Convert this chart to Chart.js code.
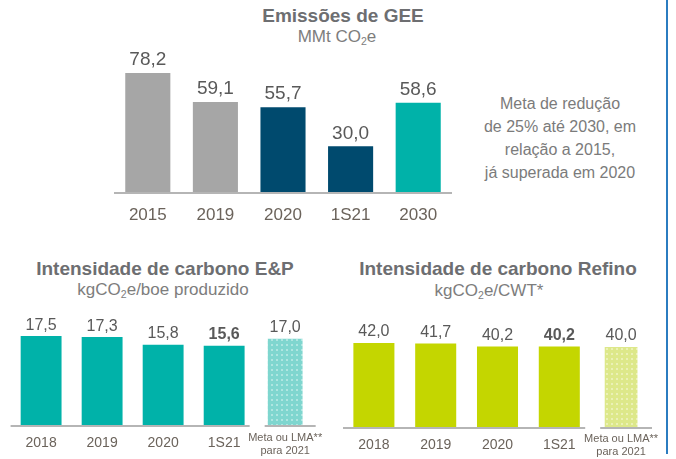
<!DOCTYPE html>
<html lang="pt">
<head>
<meta charset="utf-8">
<title>Emissões de GEE e intensidade de carbono</title>
<script src="https://cdn.jsdelivr.net/npm/chart.js@4"></script>
<style>
  html, body {
    margin: 0;
    padding: 0;
    background: #ffffff;
  }
  #page {
    position: relative;
    width: 676px;
    height: 459px;
    overflow: hidden;
    font-family: 'Liberation Sans', Arial, sans-serif;
  }
  .box {
    position: absolute;
  }
  .title {
    position: absolute;
    font-weight: bold;
    font-size: 19px;
    line-height: 24px;
    color: #6d6e71;
    white-space: nowrap;
    text-align: center;
  }
  .subtitle {
    position: absolute;
    font-size: 17px;
    line-height: 22px;
    color: #7d7d7d;
    white-space: nowrap;
    text-align: center;
  }
  .sub2 {
    font-size: 0.62em;
    vertical-align: -0.3em;
    line-height: 0;
  }
  #note {
    position: absolute;
    left: 460px;
    top: 92px;
    width: 200px;
    font-size: 16px;
    line-height: 23px;
    color: #7b7b7b;
    text-align: center;
  }
  #edge {
    position: absolute;
    left: 666px;
    top: 0;
    width: 2px;
    height: 454px;
    background: #2b7cc0;
  }
</style>
</head>
<body>
<div id="page">
  <div class="title" style="left:243px; top:4px; width:200px;">Emissões de GEE</div>
  <div class="subtitle" style="left:237px; top:26px; width:200px;">MMt CO<span class="sub2">2</span>e</div>

  <div id="note">Meta de redução<br>de 25% até 2030, em<br>relação a 2015,<br>já superada em 2020</div>

  <div class="title" style="left:15px; top:257px; width:300px;">Intensidade de carbono E&amp;P</div>
  <div class="subtitle" style="left:13px; top:279px; width:300px;">kgCO<span class="sub2">2</span>e/boe produzido</div>

  <div class="title" style="left:348px; top:257px; width:300px;">Intensidade de carbono Refino</div>
  <div class="subtitle" style="left:339px; top:280px; width:300px;">kgCO<span class="sub2">2</span>e/CWT*</div>

  <canvas id="ghg-chart" class="box" width="370" height="190" style="left:100px; top:45px;"></canvas>
  <canvas id="ep-chart" class="box" width="330" height="146" style="left:0px; top:313px;"></canvas>
  <canvas id="ref-chart" class="box" width="330" height="142" style="left:335px; top:317px;"></canvas>

  <div id="edge"></div>
</div>

<script>
'use strict';

// Data
const ghgLabels = ['2015', '2019', '2020', '1S21', '2030'];
const ghgValues = [78.2, 59.1, 55.7, 30.0, 58.6];
const ghgColors = ['#a6a6a6', '#a6a6a6', '#004a6e', '#004a6e', '#00b2a9'];

const epLabels = ['2018', '2019', '2020', '1S21', ['Meta ou LMA**', 'para 2021']];
const epValues = [17.5, 17.3, 15.8, 15.6];
const epTarget = 17.0;

const refLabels = ['2018', '2019', '2020', '1S21', ['Meta ou LMA**', 'para 2021']];
const refValues = [42.0, 41.7, 40.2, 40.2];
const refTarget = 40.0;

const FONT = "'Liberation Sans', Arial, sans-serif";
const TICK_COLOR = '#6b635b';
const VALUE_COLOR = '#595959';
const BASE_COLOR = '#b5b5b5';

Chart.defaults.font.family = FONT;
Chart.defaults.animation = false;

// dotted fill for the 2021 target bars
function makeDots(base, dot) {
  let tile = document.createElement('canvas');
  tile.width = 5;
  tile.height = 5;
  let c = tile.getContext('2d');
  c.fillStyle = base;
  c.fillRect(0, 0, 5, 5);
  c.fillStyle = dot;
  c.fillRect(1, 1, 2, 2);
  return c.createPattern(tile, 'repeat');
}

function fmt(v) {
  return v.toFixed(1).replace('.', ',');
}

// numbers above the bars
const valueLabels = {
  id: 'valueLabels',
  afterDatasetsDraw(chart, args, opts) {
    let ctx = chart.ctx;
    ctx.save();
    ctx.fillStyle = VALUE_COLOR;
    ctx.textAlign = 'center';
    ctx.textBaseline = 'middle';
    chart.data.datasets.forEach(function (ds, di) {
      chart.getDatasetMeta(di).data.forEach(function (bar, i) {
        let v = ds.data[i];
        if (v === null || v === undefined) {
          return;
        }
        let bold = opts.boldIndex === i ? 'bold ' : '';
        ctx.font = bold + opts.size + 'px ' + FONT;
        ctx.fillText(fmt(v), bar.x, bar.y - opts.offset);
      });
    });
    ctx.restore();
  }
};

// grey base line, optionally broken before the last bar
const baseLine = {
  id: 'baseLine',
  afterDatasetsDraw(chart, args, opts) {
    let ctx = chart.ctx;
    let area = chart.chartArea;
    let x = chart.scales.x;
    let y = area.bottom + 1;
    ctx.save();
    ctx.strokeStyle = BASE_COLOR;
    ctx.lineWidth = 2;
    ctx.beginPath();
    if (opts.split) {
      let step = x.getPixelForValue(1) - x.getPixelForValue(0);
      let edge = x.getPixelForValue(3) + step / 2;
      ctx.moveTo(area.left, y);
      ctx.lineTo(edge - 5, y);
      ctx.moveTo(edge + 10, y);
      ctx.lineTo(area.right, y);
    } else {
      ctx.moveTo(area.left, y);
      ctx.lineTo(area.right, y);
    }
    ctx.stroke();
    ctx.restore();
  }
};

function xAxis(size, lineHeight, pad, height) {
  return {
    grid: { display: false, drawTicks: false },
    border: { display: false },
    ticks: {
      color: TICK_COLOR,
      padding: pad,
      autoSkip: false,
      maxRotation: 0,
      font: function (c) {
        if (c.index === 4 && Array.isArray(c.chart.data.labels[4])) {
          return { family: FONT, size: 11, lineHeight: 1.2 };
        }
        return { family: FONT, size: size, lineHeight: lineHeight };
      }
    },
    afterFit: function (scale) {
      scale.height = height;
    }
  };
}

function baseOptions(max, padding, axis, labelOpts, split) {
  return {
    responsive: false,
    layout: { padding: padding },
    scales: {
      x: axis,
      y: { display: false, min: 0, max: max }
    },
    plugins: {
      legend: { display: false },
      tooltip: { enabled: false },
      valueLabels: labelOpts,
      baseLine: { split: split }
    }
  };
}

// Emissões de GEE
let ghgChart = new Chart(document.getElementById('ghg-chart'), {
  type: 'bar',
  data: {
    labels: ghgLabels,
    datasets: [{
      data: ghgValues,
      backgroundColor: ghgColors,
      categoryPercentage: 1,
      barPercentage: 0.667
    }]
  },
  options: baseOptions(90, { left: 14, right: 18, top: 10, bottom: 0 },
    xAxis(17, 1.2, 13, 43), { size: 19, offset: 13 }, false),
  plugins: [valueLabels, baseLine]
});

// Intensidade de carbono E&P
let epCtx = document.getElementById('ep-chart').getContext('2d');
let epChart = new Chart(epCtx, {
  type: 'bar',
  data: {
    labels: epLabels,
    datasets: [{
      data: epValues.concat([null]),
      backgroundColor: '#00b2a9',
      categoryPercentage: 1,
      barPercentage: 0.67,
      grouped: false
    },
    {
      data: [null, null, null, null, epTarget],
      backgroundColor: makeDots('#7fd6cf', '#aee6e1'),
      categoryPercentage: 1,
      barPercentage: 0.57,
      grouped: false
    }]
  },
  options: baseOptions(20, { left: 10.6, right: 13.4, top: 10.4, bottom: 0 },
    xAxis(14, 1.6, 6.5, 34), { size: 16, offset: 11, boldIndex: 3 }, true),
  plugins: [valueLabels, baseLine]
});

// Intensidade de carbono Refino
let refCtx = document.getElementById('ref-chart').getContext('2d');
let refChart = new Chart(refCtx, {
  type: 'bar',
  data: {
    labels: refLabels,
    datasets: [{
      data: refValues.concat([null]),
      backgroundColor: '#c4d600',
      categoryPercentage: 1,
      barPercentage: 0.664,
      grouped: false
    },
    {
      data: [null, null, null, null, refTarget],
      backgroundColor: makeDots('#dde88a', '#ebf1b6'),
      categoryPercentage: 1,
      barPercentage: 0.53,
      grouped: false
    }]
  },
  options: baseOptions(50, { left: 8, right: 13, top: 10, bottom: 0 },
    xAxis(14, 1.9, 5, 32), { size: 16, offset: 11, boldIndex: 3 }, true),
  plugins: [valueLabels, baseLine]
});
</script>
</body>
</html>
